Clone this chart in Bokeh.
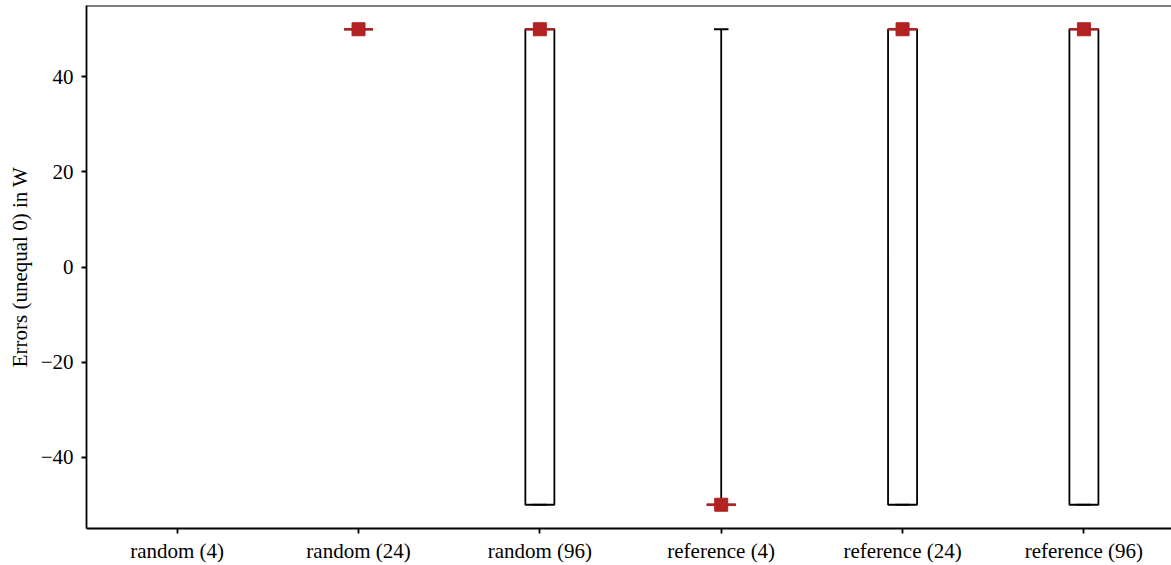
from bokeh.plotting import figure
from bokeh.models import ColumnDataSource, FixedTicker, Range1d, Span
from bokeh.embed import file_html
from bokeh.resources import INLINE

# ---- data ----
categories = ["random (4)", "random (24)", "random (96)",
              "reference (4)", "reference (24)", "reference (96)"]
q1 = [None, 50, -50, -50, -50, -50]
q3 = [None, 50, 50, -50, 50, 50]
medians = [None, 50, 50, -50, 50, 50]
means = [None, 50, 50, -50, 50, 50]
whisker_low = [None, 50, -50, -50, -50, -50]
whisker_high = [None, 50, 50, 50, 50, 50]
y_ticks = [-40, -20, 0, 20, 40]

BOX_W = 0.16
CAP_W = 0.08
RED = "#b22222"
FONT = "Liberation Serif"
LW = 1.8

pos = list(range(1, len(categories) + 1))
rows = [i for i in range(len(categories)) if q1[i] is not None]
x = [pos[i] for i in rows]
src = ColumnDataSource(dict(
    x=x,
    left=[v - BOX_W / 2 for v in x],
    right=[v + BOX_W / 2 for v in x],
    cl=[v - CAP_W / 2 for v in x],
    cr=[v + CAP_W / 2 for v in x],
    q1=[q1[i] for i in rows],
    q3=[q3[i] for i in rows],
    med=[medians[i] for i in rows],
    mean=[means[i] for i in rows],
    wlo=[whisker_low[i] for i in rows],
    whi=[whisker_high[i] for i in rows],
))

Y_TOP = 55
p = figure(width=1171, height=565, output_backend="svg", toolbar_location=None,
           x_range=Range1d(0.5, 6.483), y_range=Range1d(-55, Y_TOP),
           min_border_left=86, min_border_right=0, min_border_top=5,
           min_border_bottom=36)
p.outline_line_color = None
p.grid.visible = False
p.background_fill_color = "white"

# boxes
p.quad(left="left", right="right", bottom="q1", top="q3", source=src,
       fill_color=None, line_color="black", line_width=LW)
# whiskers
p.segment(x0="x", y0="q3", x1="x", y1="whi", source=src, line_color="black", line_width=LW)
p.segment(x0="x", y0="q1", x1="x", y1="wlo", source=src, line_color="black", line_width=LW)
# caps
p.segment(x0="cl", y0="whi", x1="cr", y1="whi", source=src, line_color="black", line_width=LW)
p.segment(x0="cl", y0="wlo", x1="cr", y1="wlo", source=src, line_color="black", line_width=LW)
# medians
p.segment(x0="left", y0="med", x1="right", y1="med", source=src, line_color=RED, line_width=2.5)
# means
p.scatter(x="x", y="mean", source=src, marker="square", size=13,
          fill_color=RED, line_color=RED)

# top spine
p.add_layout(Span(location=Y_TOP, dimension="width", line_color="black", line_width=2))

# axes
p.xaxis.ticker = FixedTicker(ticks=pos)
p.xaxis.major_label_overrides = {pos[i]: categories[i] for i in range(len(categories))}
p.yaxis.ticker = FixedTicker(ticks=y_ticks)
p.yaxis.major_label_overrides = {t: (("\u2212" + str(-t)) if t < 0 else str(t)) for t in y_ticks}
p.yaxis.axis_label = "Errors (unequal 0) in W"

for ax in (p.xaxis[0], p.yaxis[0]):
    ax.axis_line_color = "black"
    ax.axis_line_width = LW
    ax.major_tick_line_color = "black"
    ax.major_tick_line_width = LW
    ax.major_tick_out = 5
    ax.major_tick_in = 0
    ax.minor_tick_line_color = None
    ax.major_label_text_font = FONT
    ax.major_label_text_font_size = "21px"
    ax.major_label_text_color = "black"
    ax.axis_label_text_font = FONT
    ax.axis_label_text_font_size = "21px"
    ax.axis_label_text_font_style = "normal"
    ax.axis_label_text_color = "black"

p.xaxis.major_label_standoff = 5
p.yaxis.major_label_standoff = 8
p.yaxis.axis_label_standoff = 6

open("out.html", "w").write(file_html(p, INLINE))
